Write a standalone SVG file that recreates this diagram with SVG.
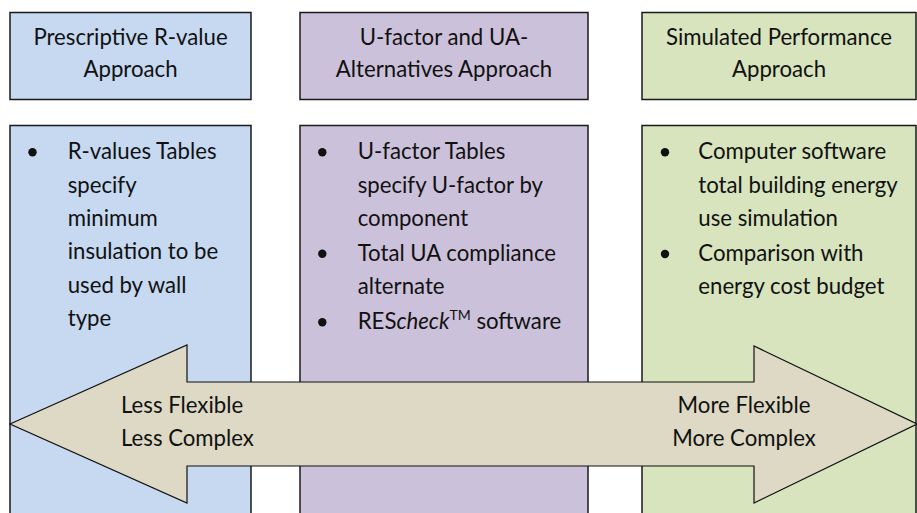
<svg xmlns="http://www.w3.org/2000/svg" width="917" height="513" viewBox="0 0 917 513">
<style>
.box{stroke:#1a1a1a;stroke-width:1.5}
.blue{fill:#c6d9f1}
.purple{fill:#ccc1da}
.green{fill:#d7e4bd}
text{font-family:Lato,"Liberation Sans",sans-serif;font-size:22.2px;fill:#111}
.c{text-anchor:middle}
.bul{fill:#111}
</style>
<rect width="917" height="513" fill="#fff"/>
<g id="col-prescriptive">
<g id="head-prescriptive">
<rect class="box blue" x="10" y="12.5" width="241" height="87"/>
<text class="c" x="130.5" y="44.5">Prescriptive R-value</text>
<text class="c" x="130.5" y="76.5">Approach</text>
</g>
<g id="body-prescriptive">
<rect class="box blue" x="10" y="125.5" width="241" height="400"/>
<circle class="bul" cx="32.5" cy="152.3" r="4.2"/>
<text x="67.7" y="159.3">R-values Tables</text>
<text x="67.7" y="192.7">specify</text>
<text x="67.7" y="226">minimum</text>
<text x="67.7" y="259.3">insulation to be</text>
<text x="67.7" y="292.7">used by wall</text>
<text x="67.7" y="326">type</text>
</g>
</g>
<g id="col-ufactor">
<g id="head-ufactor">
<rect class="box purple" x="300" y="12.5" width="288" height="87"/>
<text class="c" x="444" y="44.5">U-factor and UA-</text>
<text class="c" x="444" y="76.5">Alternatives Approach</text>
</g>
<g id="body-ufactor">
<rect class="box purple" x="300" y="125.5" width="288" height="400"/>
<circle class="bul" cx="322.3" cy="152.3" r="4.2"/>
<text x="357.7" y="159.3">U-factor Tables</text>
<text x="357.7" y="192.7">specify U-factor by</text>
<text x="357.7" y="226">component</text>
<circle class="bul" cx="322.3" cy="253.7" r="4.2"/>
<text x="357.7" y="260.7">Total UA compliance</text>
<text x="357.7" y="294">alternate</text>
<circle class="bul" cx="322.3" cy="322.3" r="4.2"/>
<text x="357.7" y="329.3">RES<tspan font-style="italic">check</tspan><tspan font-size="14" dy="-9">TM</tspan><tspan dy="9"> software</tspan></text>
</g>
</g>
<g id="col-simulated">
<g id="head-simulated">
<rect class="box green" x="642" y="12.5" width="274" height="87"/>
<text class="c" x="779" y="44.5">Simulated Performance</text>
<text class="c" x="779" y="76.5">Approach</text>
</g>
<g id="body-simulated">
<rect class="box green" x="642" y="125.5" width="274" height="400"/>
<circle class="bul" cx="665" cy="152.3" r="4.2"/>
<text x="698.3" y="159.3">Computer software</text>
<text x="698.3" y="192.7">total building energy</text>
<text x="698.3" y="226">use simulation</text>
<circle class="bul" cx="665" cy="254" r="4.2"/>
<text x="698.3" y="261">Comparison with</text>
<text x="698.3" y="294">energy cost budget</text>
</g>
</g>
<g id="connectors">
<g id="flex-arrow">
<polygon points="10,424 187,345 187,382 754,382 754,346 917,424 754,503 754,466 187,466 187,503" fill="#ddd9c4" stroke="#111" stroke-width="1.2" stroke-linejoin="miter"/>
<text x="121" y="413.3">Less Flexible</text>
<text x="121" y="446">Less Complex</text>
<text class="c" x="744" y="413.3">More Flexible</text>
<text class="c" x="744" y="446">More Complex</text>
</g>
</g>
</svg>
